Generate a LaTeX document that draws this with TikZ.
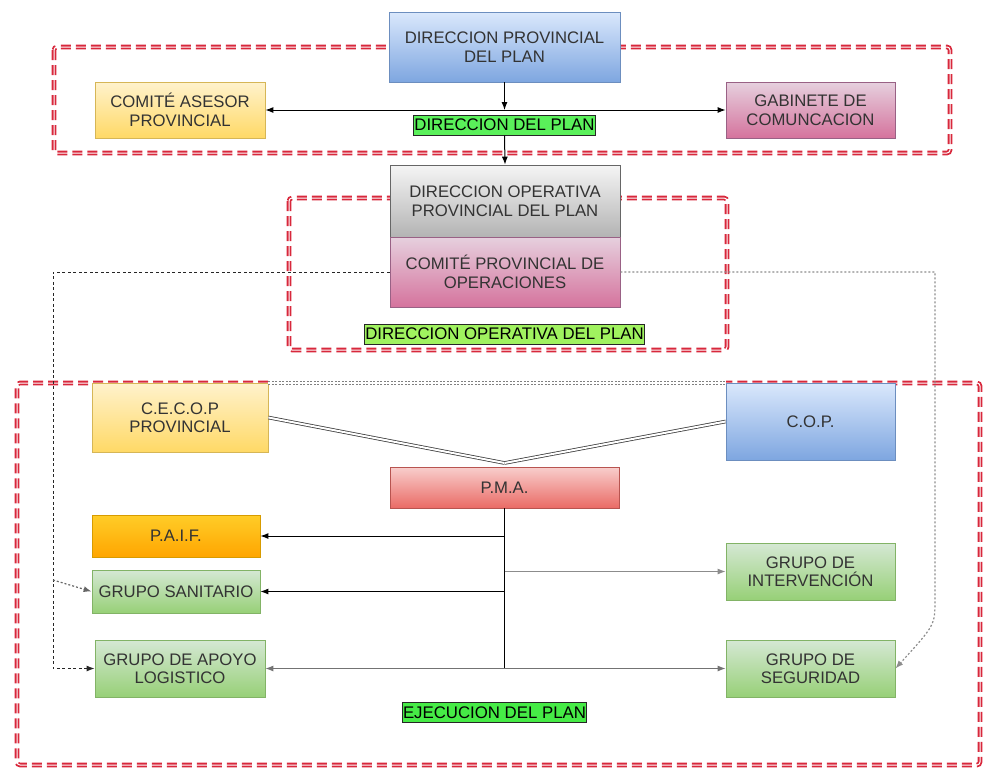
\documentclass[tikz,border=0pt]{standalone}
\usepackage{fontspec}
\setmainfont{Liberation Sans}
\usetikzlibrary{arrows.meta}

\definecolor{txt}{HTML}{333333}
\definecolor{zone}{HTML}{D8283C}
\definecolor{blueS}{HTML}{6C8EBF}\definecolor{blueT}{HTML}{DAE8FC}\definecolor{blueB}{HTML}{7EA6E0}
\definecolor{yelS}{HTML}{D6B656}\definecolor{yelT}{HTML}{FFF2CC}\definecolor{yelB}{HTML}{FFD966}
\definecolor{pinkS}{HTML}{996185}\definecolor{pinkT}{HTML}{E6D0DE}\definecolor{pinkB}{HTML}{D5739D}
\definecolor{grayS}{HTML}{666666}\definecolor{grayT}{HTML}{F5F5F5}\definecolor{grayB}{HTML}{B3B3B3}
\definecolor{redS}{HTML}{B85450}\definecolor{redT}{HTML}{F8CECC}\definecolor{redB}{HTML}{EA6B66}
\definecolor{oraS}{HTML}{D79B00}\definecolor{oraT}{HTML}{FFCD28}\definecolor{oraB}{HTML}{FFA500}
\definecolor{grnS}{HTML}{82B366}\definecolor{grnT}{HTML}{D5E8D4}\definecolor{grnB}{HTML}{97D077}
\definecolor{tagA}{HTML}{5AF05A}
\definecolor{tagB}{HTML}{A0F25F}
\definecolor{tagC}{HTML}{46EB46}

\tikzset{
  box/.style={draw, line width=0.8pt, align=center, text=txt,
    font=\fontsize{16.7}{18.5}\selectfont, inner sep=2pt},
  cblue/.style={box, draw=blueS, top color=blueT, bottom color=blueB},
  cyellow/.style={box, draw=yelS, top color=yelT, bottom color=yelB},
  cpink/.style={box, draw=pinkS, top color=pinkT, bottom color=pinkB},
  cgray/.style={box, draw=grayS, top color=grayT, bottom color=grayB},
  cred/.style={box, draw=redS, top color=redT, bottom color=redB},
  corange/.style={box, draw=oraS, top color=oraT, bottom color=oraB},
  cgreen/.style={box, draw=grnS, top color=grnT, bottom color=grnB},
  tag/.style={draw=black!85, line width=1pt, fill=#1, text=black,
    font=\fontsize{16.8}{18}\selectfont, inner xsep=1pt, inner ysep=1pt, minimum height=20},
  zonered/.style={draw=zone, line width=4.6pt, dash pattern=on 10pt off 5pt, rounded corners=3pt},
  zonewhite/.style={draw=white, line width=1pt, rounded corners=3pt},
  flow/.style={line width=1pt, -{Latex[length=8pt,width=6pt]}},
  bothflow/.style={line width=1pt, {Latex[length=8pt,width=6pt]}-{Latex[length=8pt,width=6pt]}},
  link/.style={line width=1pt, draw=black!85, dash pattern=on 3pt off 2.5pt, -{Latex[length=8pt,width=6pt]}},
  linkgray/.style={line width=1.2pt, draw=black!45, dash pattern=on 2pt off 2pt, -{Latex[length=8pt,width=6pt]}},
  twin/.style={draw=black!75, double=white, double distance=2pt, line width=0.8pt},
}

\begin{document}
\begin{tikzpicture}[x=1pt, y=-1pt]
\useasboundingbox (0,0) rectangle (984,774);

% --- zone frames, drawn first so the boxes sit on top ---
\draw[zonered] (54,47) rectangle (950,153);
\draw[zonewhite] (54,47) rectangle (950,153);
\draw[zonered] (289,198) rectangle (727,350);
\draw[zonewhite] (289,198) rectangle (727,350);
\draw[zonered] (268,383) -- (17,383) -- (17,765) -- (980,765) -- (980,383) -- (726,383);
\draw[zonewhite] (268,383) -- (17,383) -- (17,765) -- (980,765) -- (980,383) -- (726,383);

% --- boxes ---
\node[cblue, minimum width=231, minimum height=70] (dpp) at (504.5,47) {DIRECCION PROVINCIAL\\DEL PLAN};
\node[cyellow, minimum width=170, minimum height=56] (asesor) at (180,110) {COMITÉ ASESOR\\PROVINCIAL};
\node[cpink, minimum width=169, minimum height=56] (gab) at (810.5,110) {GABINETE DE\\COMUNCACION};
\node[tag=tagA] (lab1) at (504.5,125) {DIRECCION DEL PLAN};

\node[cgray, minimum width=230, minimum height=72] (dop) at (505,201) {DIRECCION OPERATIVA\\PROVINCIAL DEL PLAN};
\node[cpink, minimum width=230, minimum height=70] (cpo) at (505,272) {COMITÉ PROVINCIAL DE\\OPERACIONES};
\node[tag=tagB] (lab2) at (504.5,334) {DIRECCION OPERATIVA DEL PLAN};

\node[cyellow, minimum width=176, minimum height=69] (cecop) at (180,417.5) {C.E.C.O.P\\PROVINCIAL};
\node[cblue, minimum width=169, minimum height=77] (cop) at (810.5,421.5) {C.O.P.};
\node[cred, minimum width=229, minimum height=41] (pma) at (504.5,487.5) {P.M.A.};
\node[corange, minimum width=168, minimum height=42] (paif) at (176,536) {P.A.I.F.};
\node[cgreen, minimum width=168, minimum height=43] (san) at (176,591.5) {GRUPO SANITARIO};
\node[cgreen, minimum width=169, minimum height=57] (interv) at (810.5,571.5) {GRUPO DE\\INTERVENCIÓN};
\node[cgreen, minimum width=170, minimum height=57] (apoyo) at (180,668.5) {GRUPO DE APOYO\\LOGISTICO};
\node[cgreen, minimum width=169, minimum height=57] (seg) at (810.5,668.5) {GRUPO DE\\SEGURIDAD};
\node[tag=tagC] (lab3) at (494.5,712.5) {EJECUCION DEL PLAN};

% --- direction of the plan ---
\coordinate (j1) at (dpp.south |- asesor.east);
\draw[flow] (dpp.south) -- (j1);
\draw[bothflow] (asesor.east) -- (gab.west);
\draw[flow] (lab1.south) -- (dop.north);

% --- dashed links from the operations committee ---
\coordinate (lA) at (53,272);
\coordinate (lB) at (53,668.5);
\coordinate (lS) at (53,580);
\draw[link] (cpo.west) -- (lA) -- (lB) -- (apoyo.west);
\draw[linkgray, draw=black!60] (lS) -- (san.west);
\coordinate (rA) at (935,272);
\coordinate (rB) at (935,600);
\draw[linkgray] (cpo.east) -- (rA) -- (rB) .. controls (935,625) .. (seg.east);

% --- coordination centres ---
\draw[draw=black!50, double=white, double distance=2pt, line width=0.9pt, dash pattern=on 2pt off 1.5pt] (cecop.north east) -- (cop.north west);
\coordinate (meet) at (504.5,463);
\draw[twin] (cecop.east) -- (meet);
\draw[twin] (cop.west) -- (meet);

% --- execution groups ---
\coordinate (tp) at (pma.south |- paif.east);
\coordinate (ts) at (pma.south |- san.east);
\coordinate (ti) at (pma.south |- interv.west);
\coordinate (tb) at (pma.south |- apoyo.east);
\draw[line width=1pt] (pma.south) -- (tb);
\draw[flow] (tp) -- (paif.east);
\draw[flow] (ts) -- (san.east);
\draw[flow, draw=black!45] (ti) -- (interv.west);
\draw[bothflow, draw=black!55] (apoyo.east) -- (seg.west);
\end{tikzpicture}
\end{document}
